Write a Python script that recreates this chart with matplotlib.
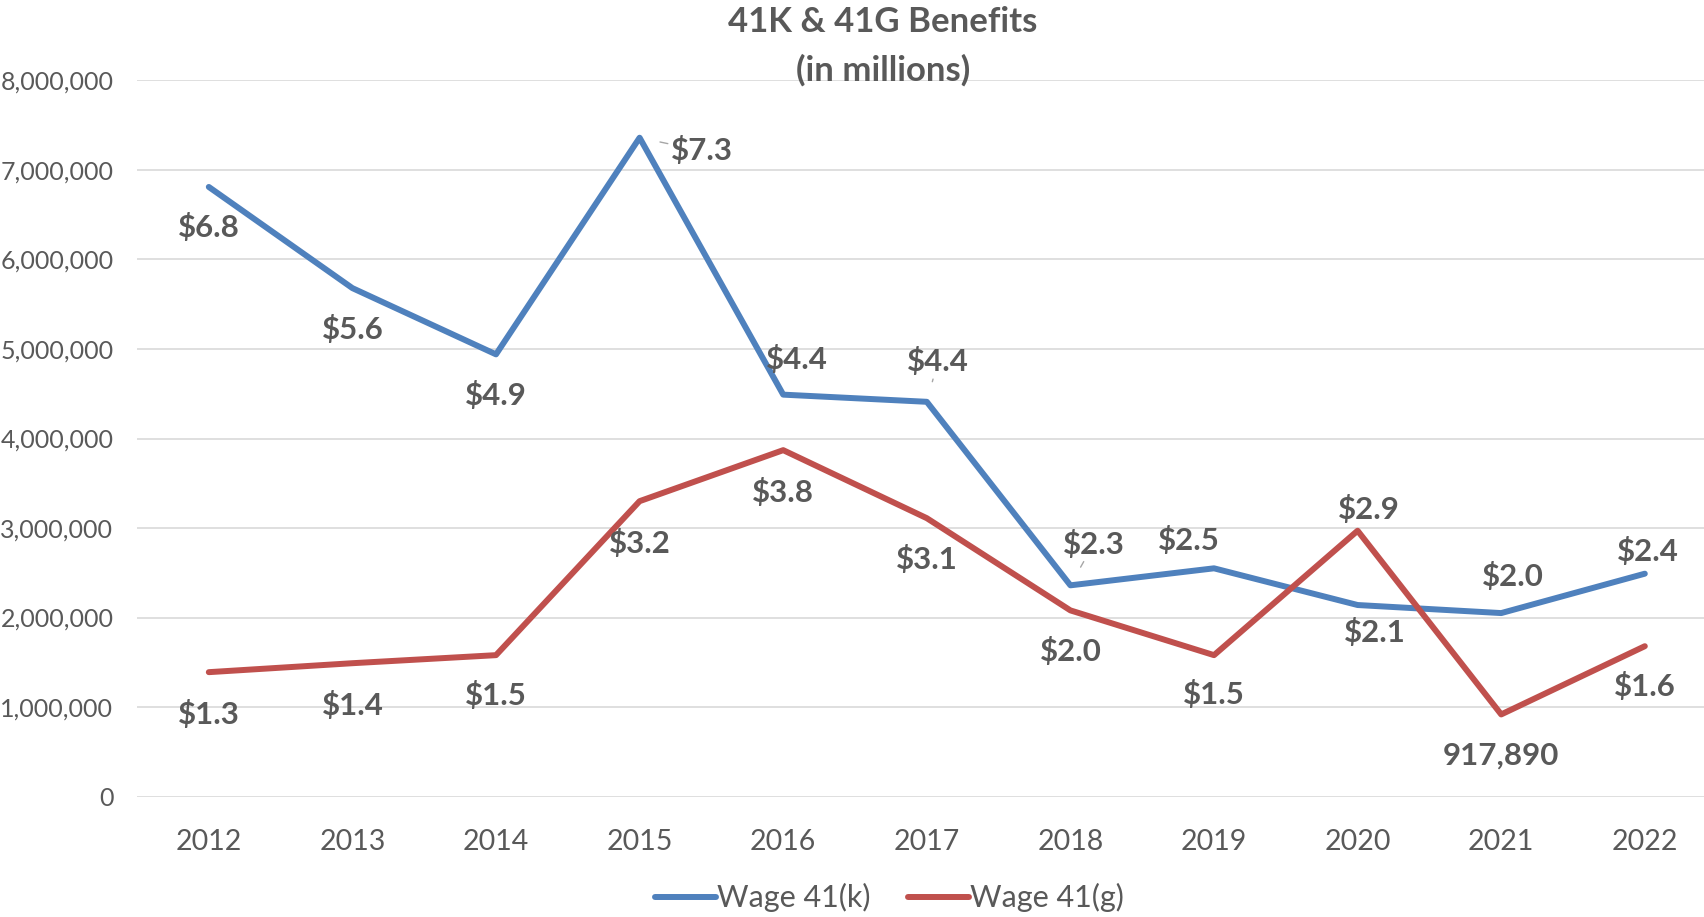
import matplotlib.pyplot as plt
from matplotlib.ticker import FuncFormatter

years = ['2012', '2013', '2014', '2015', '2016', '2017', '2018', '2019', '2020', '2021', '2022']
wage_k = [6810000, 5680000, 4940000, 7360000, 4490000, 4410000, 2360000, 2550000, 2140000, 2050000, 2490000]
wage_g = [1390000, 1490000, 1580000, 3300000, 3870000, 3110000, 2080000, 1580000, 2970000, 917890, 1680000]
labels_k = ['$6.8', '$5.6', '$4.9', '$7.3', '$4.4', '$4.4', '$2.3', '$2.5', '$2.1', '$2.0', '$2.4']
labels_g = ['$1.3', '$1.4', '$1.5', '$3.2', '$3.8', '$3.1', '$2.0', '$1.5', '$2.9', '917,890', '$1.6']

# label offsets in pixels (dx, dy)
off_k = [(0, -41), (0, -41), (0, -41), (62, -13), (14, 35), (11, 40),
         (23, 41), (-25, 28), (17, -27), (12, 37), (3, 22)]
off_g = [(0, -42), (0, -42), (0, -40), (0, -42), (0, -42), (0, -41),
         (0, -41), (0, -39), (11, 21), (0, -41), (0, -40)]
leaders_k = [3, 5, 6]

plt.rcParams['font.family'] = ['Lato', 'DejaVu Sans']
grey = '#595959'
blue = '#4f81bd'
red = '#c0504d'

fig = plt.figure(figsize=(17.04, 9.17), dpi=100)
ax = fig.add_axes([0.0804, 0.1313, 0.927, 0.781])

x = list(range(len(years)))
ax.plot(x, wage_k, color=blue, lw=4.3, solid_capstyle='round', label='Wage 41(k)', zorder=3)
ax.plot(x, wage_g, color=red, lw=4.3, solid_capstyle='round', label='Wage 41(g)', zorder=3)

for i in x:
    dx, dy = off_k[i]
    props = dict(arrowstyle='-', color='#a6a6a6', lw=1, shrinkA=0, shrinkB=15) if i in leaders_k else None
    ax.annotate(labels_k[i], (i, wage_k[i]), xytext=(dx, dy), textcoords='offset pixels',
                ha='center', va='center', fontsize=22.5, fontweight='bold', color=grey,
                arrowprops=props, zorder=4)
    dx, dy = off_g[i]
    ax.annotate(labels_g[i], (i, wage_g[i]), xytext=(dx, dy), textcoords='offset pixels',
                ha='center', va='center', fontsize=22.5, fontweight='bold', color=grey, zorder=4)

ax.set_xlim(-0.5, len(years) - 0.5)
ax.set_ylim(0, 8000000)
ax.set_yticks(range(0, 8000001, 1000000))
ax.yaxis.set_major_formatter(FuncFormatter(lambda v, p: f'{int(v):,}'))
ax.set_xticks(x)
ax.set_xticklabels(years)
ax.tick_params(axis='y', length=0, pad=17, labelsize=18, labelcolor=grey)
ax.tick_params(axis='x', length=0, pad=23, labelsize=20.5, labelcolor=grey)
ax.grid(axis='y', color='#d9d9d9', lw=1.2)
ax.set_axisbelow(True)
for s in ax.spines.values():
    s.set_visible(False)

fig.text(0.518, 0.993, '41K & 41G Benefits\n(in millions)', ha='center', va='top',
         fontsize=25, fontweight='bold', color=grey, linespacing=1.6)

fig.legend(loc='center', bbox_to_anchor=(0.522, 0.021), ncol=2, frameon=False,
           fontsize=22, labelcolor=grey, handlelength=2.0, handletextpad=0.05,
           columnspacing=1.2)

fig.savefig('out.png', dpi=100)
